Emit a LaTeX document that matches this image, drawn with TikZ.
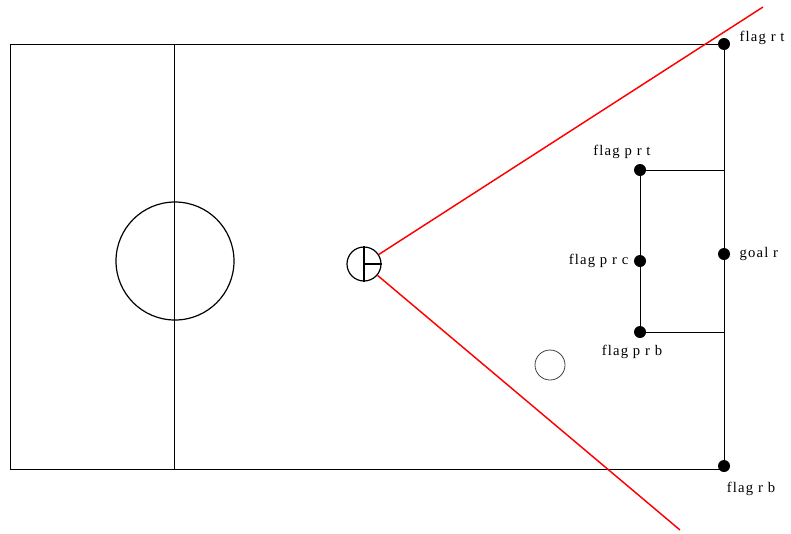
\documentclass[tikz,border=0pt]{standalone}
\usepackage{fontspec}
\setmainfont{Liberation Serif}[LetterSpace=8]
\begin{document}
\begin{tikzpicture}[x=0.75pt,y=-0.75pt,
  field/.style={draw=black,line width=0.7pt},
  flagdot/.style={circle,fill=black,inner sep=0pt,minimum size=9pt},
  lbl/.style={font=\fontsize{11}{13}\selectfont,inner sep=1pt},
  ray/.style={draw=red,line width=1.1pt}]
\useasboundingbox (0,0) rectangle (791,533);
% field
\draw[field] (10,44) rectangle (724,469);
\draw[field] (174,44) -- (174,469);
\draw[field,line width=0.9pt] (175,261) circle[radius=59];
% flags
\node[flagdot] (frt) at (724,44) {};
\node[flagdot] (gr) at (724,254) {};
\node[flagdot] (frb) at (724,466) {};
\node[flagdot] (fprt) at (640,170) {};
\node[flagdot] (fprc) at (640,261) {};
\node[flagdot] (fprb) at (640,332) {};
\coordinate (pt) at (724,170);
\coordinate (pb) at (724,332);
\draw[field] (fprt.center) -- (pt);
\draw[field] (fprb.center) -- (pb);
\draw[field] (fprt.center) -- (fprb.center);
% labels
\node[lbl,anchor=west] at (738,38) {flag r t};
\node[lbl] at (622,152) {flag p r t};
\node[lbl,anchor=east] at (630,261) {flag p r c};
\node[lbl,anchor=west] at (738,254) {goal r};
\node[lbl] at (632,352) {flag p r b};
\node[lbl] at (751,489) {flag r b};
% player
\node[circle,draw=black,line width=0.9pt,minimum size=34pt*0.75,inner sep=0pt] (pl) at (364,264) {};
\draw[line width=0.8pt] (pl.north) -- (pl.south);
\draw[line width=0.8pt] (pl.center) -- (pl.east);
\coordinate (r1) at (763,7);
\coordinate (r2) at (680,530);
\draw[ray] (pl) -- (r1);
\draw[ray] (pl) -- (r2);
% ball
\node[circle,draw=black!75,line width=0.6pt,minimum size=30pt*0.75,inner sep=0pt] (ball) at (550,365) {};
\end{tikzpicture}
\end{document}
